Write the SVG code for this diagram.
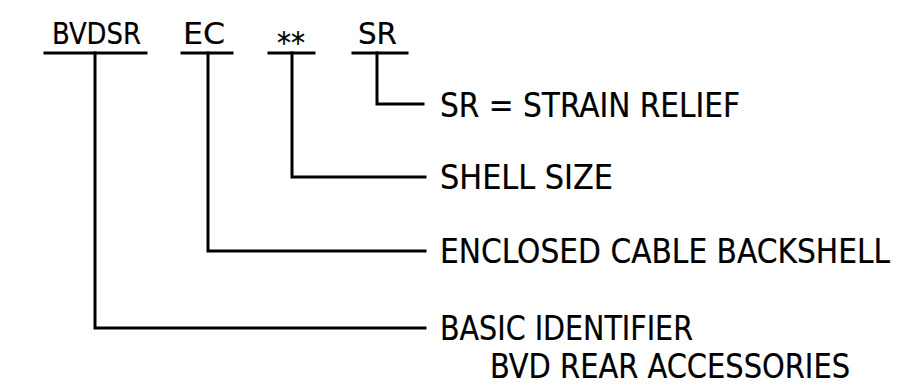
<svg xmlns="http://www.w3.org/2000/svg" width="918" height="390" viewBox="0 0 918 390">
<style>
.bg{fill:#ffffff}
.code{font-family:"Liberation Sans Narrow","DejaVu Sans Condensed","DejaVu Sans",sans-serif;font-stretch:condensed;font-size:30px;fill:#000;stroke:#000;stroke-width:0.2}
.lbl{font-family:"Liberation Sans Narrow","DejaVu Sans Condensed","DejaVu Sans",sans-serif;font-stretch:condensed;font-size:34px;fill:#000;stroke:#000;stroke-width:0.2}
.ln{fill:none;stroke:#000;stroke-width:3;stroke-linecap:square;stroke-linejoin:miter}
</style>
<rect class="bg" x="0" y="0" width="918" height="390"/>
<g id="code-bvdsr">
<text class="code" x="52" y="44" textLength="89" lengthAdjust="spacingAndGlyphs">BVDSR</text>
<line class="ln" x1="45" y1="53" x2="146" y2="53"/>
</g>
<g id="code-ec">
<text class="code" x="183" y="44" textLength="42" lengthAdjust="spacingAndGlyphs">EC</text>
<line class="ln" x1="182" y1="53" x2="232" y2="53"/>
</g>
<g id="code-size">
<text class="code" x="277" y="53" textLength="28" lengthAdjust="spacingAndGlyphs">**</text>
<line class="ln" x1="269" y1="53" x2="314" y2="53"/>
</g>
<g id="code-sr">
<text class="code" x="358" y="44" textLength="39" lengthAdjust="spacingAndGlyphs">SR</text>
<line class="ln" x1="353" y1="53" x2="407" y2="53"/>
</g>
<g id="label-sr">
<text class="lbl" x="440" y="117" textLength="300" lengthAdjust="spacingAndGlyphs">SR = STRAIN RELIEF</text>
</g>
<g id="label-size">
<text class="lbl" x="440" y="189" textLength="173" lengthAdjust="spacingAndGlyphs">SHELL SIZE</text>
</g>
<g id="label-ec">
<text class="lbl" x="440" y="263" textLength="450" lengthAdjust="spacingAndGlyphs">ENCLOSED CABLE BACKSHELL</text>
</g>
<g id="label-basic">
<text class="lbl" x="440" y="340" textLength="253" lengthAdjust="spacingAndGlyphs">BASIC IDENTIFIER</text>
<text class="lbl" x="490" y="378" textLength="360" lengthAdjust="spacingAndGlyphs">BVD REAR ACCESSORIES</text>
</g>
<g id="connectors">
<polyline class="ln" points="377,53 377,104 423,104"/>
<polyline class="ln" points="292,53 292,177 425,177"/>
<polyline class="ln" points="208,53 208,251 425,251"/>
<polyline class="ln" points="95,53 95,328 425,328"/>
</g>
</svg>
